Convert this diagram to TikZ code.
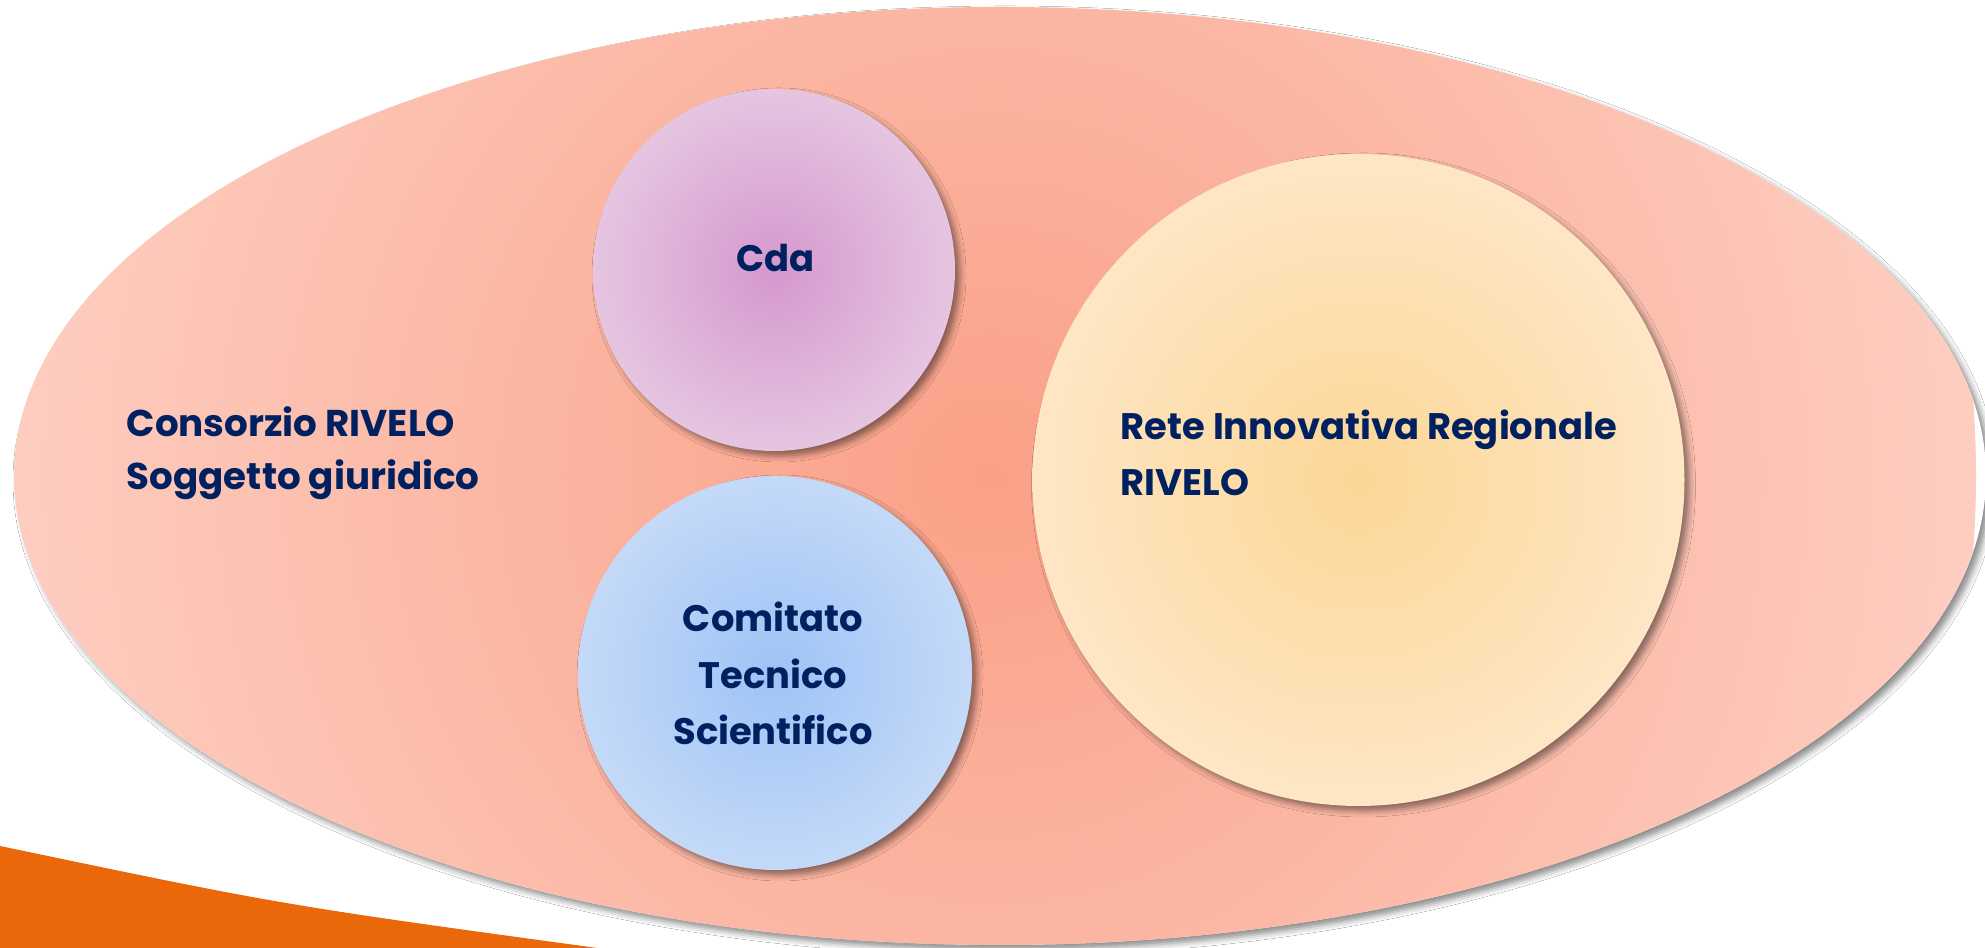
\documentclass[tikz,border=0pt]{standalone}
\usepackage{fontspec}
\setmainfont{Poppins}
\usetikzlibrary{shadows.blur}

\definecolor{blurivelo}{RGB}{0,32,96}
\definecolor{arancio}{RGB}{234,104,10}
\definecolor{salmonec}{RGB}{250,160,135}
\definecolor{salmoneb}{RGB}{254,220,211}
\definecolor{lillac}{RGB}{213,152,205}
\definecolor{lillab}{RGB}{233,206,229}
\definecolor{celestec}{RGB}{158,195,246}
\definecolor{celesteb}{RGB}{204,222,248}
\definecolor{giallic}{RGB}{252,214,150}
\definecolor{giallib}{RGB}{254,234,207}

% sfumature radiali
\pgfdeclareradialshading{consorzio}{\pgfpoint{0bp}{0bp}}{color(0bp)=(salmonec); color(33bp)=(salmoneb); color(72bp)=(salmoneb)}
\pgfdeclareradialshading{lilla}{\pgfpoint{0bp}{0bp}}{color(0bp)=(lillac); color(30bp)=(lillab); color(72bp)=(lillab)}
\pgfdeclareradialshading{celeste}{\pgfpoint{0bp}{0bp}}{color(0bp)=(celestec); color(30bp)=(celesteb); color(72bp)=(celesteb)}
\pgfdeclareradialshading{giallo}{\pgfpoint{0bp}{0bp}}{color(0bp)=(giallic); color(30bp)=(giallib); color(72bp)=(giallib)}

\tikzset{
    ombra/.style={blur shadow={shadow xshift=0.5mm, shadow yshift=-0.5mm, shadow blur radius=0.6mm, shadow opacity=45}},
    cerchio/.style={circle, inner sep=0pt, ombra, shade, shading=#1},
    testo/.style={text=blurivelo, font=\bfseries\fontsize{10.5}{16.2}\selectfont, inner sep=0pt},
}

\begin{document}
\begin{tikzpicture}
    \path [use as bounding box, fill=white] (0, 0) rectangle (19.85, 9.48);

    % fascia arancione
    \fill [arancio] (0, 1.02) .. controls (2.82, 0.43) .. (5.97, 0) -- (0, 0) -- cycle;

    % consorzio
    \fill [white, ombra] (10, 4.72) ellipse [x radius=9.86, y radius=4.69];
    \begin{scope}
        \clip (10, 4.72) ellipse [x radius=9.86, y radius=4.69];
        \shade [shading=consorzio] (9.9, 4.72) circle (9.86);
    \end{scope}
    \node [testo, anchor=base west, align=left, font=\bfseries\fontsize{10.6}{15.1}\selectfont] (consorziotesto) at (1.26, 4.58) {Consorzio RIVELO\\Soggetto giuridico};

    % cerchi
    \node [cerchio=lilla, minimum size=3.62cm] (cda) at (7.74, 6.78) {};
    \node [cerchio=celeste, minimum size=3.94cm] (cts) at (7.75, 2.75) {};
    \node [cerchio=giallo, minimum size=6.52cm] (rete) at (13.585, 4.68) {};

    \node [testo, anchor=base] (cdatesto) at (7.755, 6.76) {Cda};
    \node [testo, anchor=base, align=center] (ctstesto) at (7.73, 2.03) {Comitato\\Tecnico\\Scientifico};
    \node [testo, anchor=base west, align=left] (retetesto) at (11.20, 4.52) {Rete Innovativa Regionale\\RIVELO};
\end{tikzpicture}
\end{document}
